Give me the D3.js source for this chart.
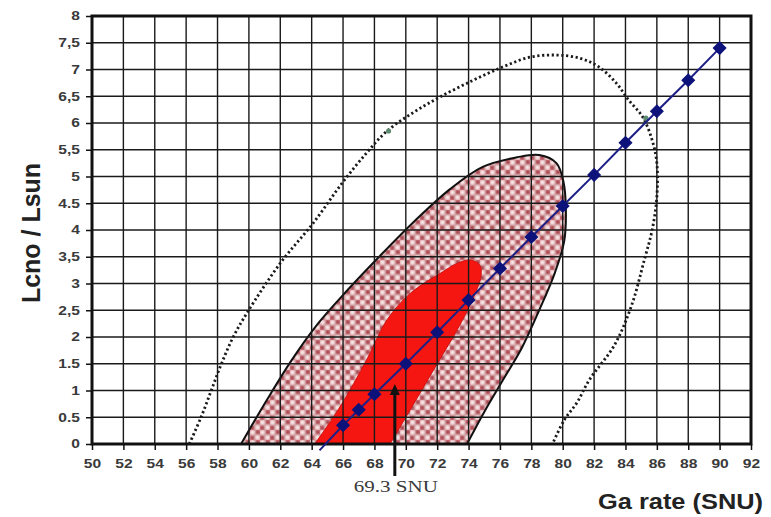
<!DOCTYPE html>
<html>
<head>
<meta charset="utf-8">
<script src="https://cdn.jsdelivr.net/npm/d3@7"></script>
<style>
  html, body { margin: 0; padding: 0; background: #fff; }
  svg { display: block; }
</style>
</head>
<body>
<svg id="chart" width="771" height="517"></svg>
<script>
// Axis ticks
const xTicks = [50, 52, 54, 56, 58, 60, 62, 64, 66, 68, 70, 72, 74, 76, 78, 80, 82, 84, 86, 88, 90, 92];
const yTicks = [0, 0.5, 1, 1.5, 2, 2.5, 3, 3.5, 4, 4.5, 5, 5.5, 6, 6.5, 7, 7.5, 8];
const yTickLabels = ["0", "0.5", "1", "1.5", "2", "2,5", "3", "3,5", "4", "4.5", "5", "5,5", "6", "6,5", "7", "7,5", "8"];

// Model prediction: Ga rate vs CNO luminosity fraction
const gaRate = [64.5, 66, 67, 68, 70, 72, 74, 76, 78, 80, 82, 84, 86, 88, 90];
const lumCno = [-0.12, 0.35, 0.64, 0.93, 1.5, 2.09, 2.69, 3.28, 3.87, 4.45, 5.03, 5.63, 6.22, 6.8, 7.4];
const markerFrom = 1;

// Outer (dotted) confidence contour
const outerX = [56.2, 56.95, 57.6, 58.25, 59.0, 59.9, 62.0, 64.1, 66.0, 67.5, 68.8, 70.5, 72.2, 74.3, 76.2, 77.9, 79.6, 81.1, 82.3, 83.4, 84.2, 85.1, 85.7, 86.0, 86.0, 85.7, 85.2, 84.4, 83.3, 81.7, 80.9, 80.1, 79.35];
const outerY = [0, 0.5, 1.0, 1.5, 2.0, 2.46, 3.38, 4.13, 4.9, 5.44, 5.85, 6.2, 6.49, 6.8, 7.05, 7.23, 7.27, 7.21, 7.05, 6.75, 6.43, 6.11, 5.68, 5.25, 4.62, 4.0, 3.44, 2.6, 1.85, 1.2, 0.77, 0.45, 0];

// Middle (checkered) contour
const midX = [59.5, 61.2, 62.8, 64.4, 66.2, 68.3, 70.5, 72.8, 74.9, 77.1, 78.5, 79.6, 80.05, 80.2, 80.1, 79.5, 78.5, 77.4, 76.2, 75.0, 73.9];
const midY = [0, 0.85, 1.6, 2.25, 2.85, 3.5, 4.15, 4.76, 5.18, 5.36, 5.4, 5.25, 4.9, 4.4, 3.8, 3.2, 2.5, 1.8, 1.2, 0.6, 0];

// Inner (solid red) contour
const innerX = [64.2, 65.8, 67.5, 68.8, 70.3, 72.2, 73.3, 74.1, 74.7, 74.8, 74.4, 73.4, 72.0, 70.6, 69.0];
const innerY = [0, 0.69, 1.57, 2.32, 2.82, 3.19, 3.38, 3.44, 3.35, 3.15, 2.8, 2.2, 1.5, 0.8, 0];

// Contour / line crossings
const crossX = [68.9, 85.3];
const crossY = [5.85, 6.09];

// Measured rate annotation
const measuredRate = 69.3;
const measuredLabel = "69.3 SNU";

const svg = d3.select("#chart");
const x = d3.scaleLinear().domain([50, 92]).range([92, 751]);
const y = d3.scaleLinear().domain([0, 8]).range([444, 16]);

const defs = svg.append("defs");
const blur = defs.append("filter").attr("id", "soft")
  .attr("x", "-20%").attr("y", "-20%").attr("width", "140%").attr("height", "140%");
blur.append("feGaussianBlur").attr("stdDeviation", 0.9);

const pat = defs.append("pattern").attr("id", "checker")
  .attr("patternUnits", "userSpaceOnUse").attr("width", 10).attr("height", 10);
pat.append("rect").attr("width", 10).attr("height", 10).attr("fill", "#d58f94");
const pg = pat.append("g").attr("filter", "url(#soft)");
[[2.5, 2.5, "#fdf2f2"], [7.5, 7.5, "#fdf2f2"], [7.5, 2.5, "#a8404c"], [2.5, 7.5, "#a8404c"]]
  .forEach(([cx, cy, c]) => pg.append("circle").attr("cx", cx).attr("cy", cy).attr("r", 2.4).attr("fill", c));

const zip = (xs, ys) => xs.map((v, i) => [v, ys[i]]);
const curve = d3.line().x(d => x(d[0])).y(d => y(d[1])).curve(d3.curveCatmullRom.alpha(0.5));

// Filled contours
svg.append("path").attr("d", curve(zip(midX, midY)) + "Z")
  .attr("fill", "url(#checker)").attr("stroke", "#111").attr("stroke-width", 2);
svg.append("path").attr("d", curve(zip(innerX, innerY)) + "Z")
  .attr("fill", "#f51612").attr("stroke", "#d01010").attr("stroke-width", 1);

// Grid
const grid = svg.append("g").attr("stroke", "#1a1a1a").attr("stroke-width", 1.4);
grid.selectAll(".gx").data(xTicks.slice(1, -1)).join("line")
  .attr("x1", d => x(d)).attr("x2", d => x(d)).attr("y1", y(0)).attr("y2", y(8));
grid.selectAll(".gy").data(yTicks.slice(1, -1)).join("line")
  .attr("x1", x(50)).attr("x2", x(92)).attr("y1", d => y(d)).attr("y2", d => y(d));

// Axes
const xAxis = d3.axisBottom(x).tickValues(xTicks).tickSize(6).tickPadding(9).tickFormat(d3.format("d"));
const yAxis = d3.axisLeft(y).tickValues(yTicks).tickSize(6).tickPadding(6).tickFormat((d, i) => yTickLabels[i]);
const gx = svg.append("g").attr("transform", `translate(0,${y(0)})`).call(xAxis);
const gy = svg.append("g").attr("transform", `translate(${x(50)},0)`).call(yAxis);
[gx, gy].forEach(g => {
  g.select(".domain").remove();
  g.selectAll(".tick line").attr("stroke", "#111").attr("stroke-width", 1.5);
  g.selectAll(".tick text").attr("fill", "#3a3a3a")
    .style("font-family", "'Liberation Sans', Arial, sans-serif")
    .style("font-size", "12px").style("font-weight", "bold");
});
// wide tick glyphs
gx.selectAll(".tick text").attr("transform", "scale(1.3,1)");
gy.selectAll(".tick text").attr("x", 0).attr("transform", "translate(-12,0) scale(1.3,1)");

// Frame
svg.append("rect").attr("x", x(50)).attr("y", y(8))
  .attr("width", x(92) - x(50)).attr("height", y(0) - y(8))
  .attr("fill", "none").attr("stroke", "#111").attr("stroke-width", 3);

// Dotted outer contour
svg.append("path").attr("d", curve(zip(outerX, outerY)))
  .attr("fill", "none").attr("stroke", "#1a1a1a").attr("stroke-width", 2.8)
  .attr("stroke-dasharray", "2.2,2.6");

svg.selectAll(".cross").data(zip(crossX, crossY)).join("circle")
  .attr("cx", d => x(d[0])).attr("cy", d => y(d[1])).attr("r", 2.6)
  .attr("fill", "#5f8a72");

// Model line and markers
const straight = d3.line().x(d => x(d[0])).y(d => y(d[1]));
const pts = zip(gaRate, lumCno);
svg.append("path").attr("d", straight(pts))
  .attr("fill", "none").attr("stroke", "#1c1f86").attr("stroke-width", 2);
svg.selectAll(".mk").data(pts.slice(markerFrom)).join("path")
  .attr("d", d3.symbol().type(d3.symbolSquare).size(80))
  .attr("transform", d => `translate(${x(d[0])},${y(d[1])}) rotate(45)`)
  .attr("fill", "#0d127a").attr("stroke", "#0d127a").attr("stroke-width", 1);

// Measured rate arrow
const ax = x(measuredRate);
const aTop = y(1.12);
svg.append("line").attr("x1", ax).attr("x2", ax).attr("y1", aTop + 8).attr("y2", y(0) + 32)
  .attr("stroke", "#111").attr("stroke-width", 3);
svg.append("path")
  .attr("d", `M${ax},${aTop} L${ax - 5},${aTop + 11} L${ax + 5},${aTop + 11} Z`)
  .attr("fill", "#111");
svg.append("text").attr("x", ax - 41).attr("y", 492)
  .attr("textLength", 84).attr("lengthAdjust", "spacingAndGlyphs")
  .attr("fill", "#3a3a3a").style("font-family", "'Liberation Serif', 'Times New Roman', serif")
  .style("font-size", "16px").text(measuredLabel);

// Axis titles
svg.append("text").attr("x", 598).attr("y", 509)
  .attr("textLength", 165).attr("lengthAdjust", "spacingAndGlyphs")
  .attr("fill", "#222").style("font-family", "'Liberation Sans', Arial, sans-serif")
  .style("font-size", "22px").style("font-weight", "bold").text("Ga rate (SNU)");
svg.append("text").attr("transform", `translate(40,233) scale(1.2,1) rotate(-90)`)
  .attr("x", -70).attr("textLength", 140).attr("lengthAdjust", "spacingAndGlyphs")
  .attr("fill", "#222").style("font-family", "'Liberation Sans', Arial, sans-serif")
  .style("font-size", "22px").style("font-weight", "bold").text("Lcno / Lsun");
</script>
</body>
</html>
